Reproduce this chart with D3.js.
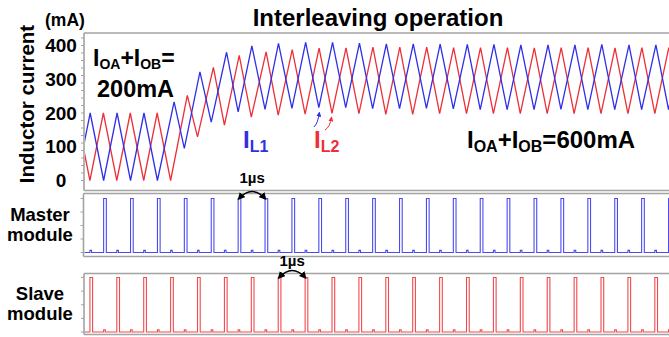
<!DOCTYPE html>
<html><head><meta charset="utf-8">
<script src="https://cdn.jsdelivr.net/npm/d3@7"></script>
<style>
body{margin:0;background:#fff}
svg{display:block}
text{font-family:"Liberation Sans",Arial,Helvetica,sans-serif;font-weight:bold;fill:#000}
</style>
</head><body>
<svg id="chart" width="669" height="337"></svg>
<script>
// ---- data ----
// inductor current vertices: time in µs, current in mA
const blueT=[-0.27,0.23,0.73,1.23,1.73,2.23,2.73,3.35,3.73,4.31,4.73,5.30,5.73,6.24,6.73,7.23,7.73,8.24,8.73,9.24,9.73,10.24,10.73,11.24,11.73,12.24,12.73,13.24,13.73,14.25,14.73,15.24,15.73,16.24,16.73,17.25,17.73,18.25,18.73,19.25,19.73,20.26,20.73,21.26,21.73,22.26];
const blueI=[0,200,0,200,0,200,0,233,95,322,173,380,203,399,211,406,214,409,216,409,216,407,213,405,213,405,214,404,212,403,210,403,210,402,210,402,211,402,210,403,210,402,210,402,210,402];
const redT=[-0.28,0.22,0.72,1.22,1.72,2.22,2.72,3.22,3.84,4.22,4.81,5.22,5.77,6.22,6.77,7.22,7.74,8.22,8.74,9.22,9.74,10.22,10.74,11.22,11.74,12.22,12.74,13.22,13.74,14.22,14.74,15.22,15.74,16.22,16.74,17.22,17.74,18.22,18.74,19.22,19.74,20.22,20.74,21.22,21.74,22.22,22.74];
const redI=[200,0,200,0,200,0,200,0,252,129,335,164,371,188,381,194,388,197,392,199,393,198,395,196,395,196,395,198,394,198,394,198,394,198,393,198,394,198,394,198,393,198,394,198,394,198,394];
// gate pulse start times (µs)
const masterPulseT=[0.73,1.73,2.73,3.73,4.73,5.73,6.73,7.73,8.73,9.73,10.73,11.73,12.73,13.73,14.73,15.73,16.73,17.73,18.73,19.73,20.73,21.73];
const slavePulseT=[0.22,1.22,2.22,3.22,4.22,5.22,6.22,7.22,8.22,9.22,10.22,11.22,12.22,13.22,14.22,15.22,16.22,17.22,18.22,19.22,20.22,21.22];
const pulseWidth=0.1;
const yTickLabels=[0,100,200,300,400];
const masterArrowIdx=[5,6];
const slaveArrowIdx=[7,8];

// ---- layout ----
const svg=d3.select("#chart");
const W=669;
const x=d3.scaleLinear().domain([0,22]).range([84,84+22*26.9]);
const y=d3.scaleLinear().domain([0,400]).range([180.5,45.5]);
const yM=d3.scaleLinear().domain([0,1]).range([252.5,198.5]);
const yS=d3.scaleLinear().domain([0,1]).range([332,277.5]);

const BLUE="#2f2fe6", RED="#ec2f38", BLUEP="#4a4af0", REDP="#ef4a4f", FRAME="#a3a3a3";

const defs=svg.append("defs");
function clip(id,x0,y0,w,h){defs.append("clipPath").attr("id",id).append("rect").attr("x",x0).attr("y",y0).attr("width",w).attr("height",h);}
clip("cTop",85,34,W-85,156);
clip("cM",84.5,194,W-84,62);
clip("cS",85,274,W-85,61);
["arrK","arrB","arrR"].forEach((id,i)=>{
  defs.append("marker").attr("id",id).attr("viewBox","0 0 10 10").attr("refX",8).attr("refY",5)
   .attr("markerWidth",5).attr("markerHeight",5).attr("orient","auto-start-reverse")
   .append("path").attr("d","M0,0 L10,5 L0,10 z").attr("fill",["#000",BLUE,RED][i]);
});

// frames
function frame(x0,y0,y1,ticks){
  svg.append("line").attr("x1",x0).attr("x2",W+5).attr("y1",y0).attr("y2",y0).attr("stroke",FRAME).attr("stroke-width",1.6);
  svg.append("line").attr("x1",x0).attr("x2",W+5).attr("y1",y1).attr("y2",y1).attr("stroke",FRAME).attr("stroke-width",1.6);
  svg.append("line").attr("x1",x0).attr("x2",x0).attr("y1",y0).attr("y2",y1).attr("stroke",FRAME).attr("stroke-width",1.6);
  ticks.forEach(t=>svg.append("line").attr("x1",x0-3).attr("x2",x0).attr("y1",t).attr("y2",t).attr("stroke",FRAME).attr("stroke-width",1));
}
const minor=d3.range(0,20).map(i=>y(i*400/18)).filter(v=>v>35);
frame(84,33,190.5,minor);
frame(83.5,193.5,256.5,[yM(0),yM(0.25),yM(0.5),yM(0.75),yM(1)]);
frame(84,273.5,334.5,[yS(0),yS(0.25),yS(0.5),yS(0.75),yS(1)]);

// y axis labels
svg.selectAll(".yl").data(yTickLabels).enter().append("text")
  .attr("x",61).attr("y",d=>y(d)+6.5).attr("text-anchor","middle").style("font-size","19px").text(d=>d);
svg.append("text").attr("x",45).attr("y",26).style("font-size","17.5px").text("(mA)");
svg.append("text").attr("transform","translate(34,104) rotate(-90)").attr("text-anchor","middle").style("font-size","20.5px").text("Inductor current");
svg.append("text").attr("x",378).attr("y",26).attr("text-anchor","middle").style("font-size","24px").text("Interleaving operation");

// inductor currents
const line=d3.line().x(d=>x(d[0])).y(d=>y(d[1]));
const gTop=svg.append("g").attr("clip-path","url(#cTop)");
gTop.append("path").attr("d",line(d3.zip(redT,redI))).attr("fill","none").attr("stroke",RED).attr("stroke-width",1.3);
gTop.append("path").attr("d",line(d3.zip(blueT,blueI))).attr("fill","none").attr("stroke",BLUE).attr("stroke-width",1.3);

// gate pulses
function pulses(starts,blips,ys,col,clipId){
  const pts=[[-0.5,0]];
  const events=[...starts.map(t=>({t,h:1,w:pulseWidth})),...blips.map(t=>({t,h:0.04,w:0.06}))].sort((a,b)=>a.t-b.t);
  events.forEach(e=>{pts.push([e.t,0],[e.t,e.h],[e.t+e.w,e.h],[e.t+e.w,0]);});
  pts.push([23,0]);
  const l=d3.line().x(d=>x(d[0])).y(d=>ys(d[1]));
  svg.append("g").attr("clip-path",`url(#${clipId})`).append("path").attr("d",l(pts))
    .attr("fill","none").attr("stroke",col).attr("stroke-width",1.1);
}
pulses(masterPulseT,slavePulseT,yM,BLUEP,"cM");
pulses(slavePulseT,masterPulseT,yS,REDP,"cS");

// 1µs arrows
function arc(i0,i1,ts,ys,labelY){
  const x1=x(ts[i0])+0.5, x2=x(ts[i1])+0.5, yb=ys(1)+0.5, xm=(x1+x2)/2;
  svg.append("path").attr("d",`M${x1},${yb} Q${xm},${yb-15} ${x2},${yb}`).attr("fill","none")
    .attr("stroke","#000").attr("stroke-width",1.5).attr("marker-start","url(#arrK)").attr("marker-end","url(#arrK)");
  svg.append("text").attr("x",xm).attr("y",labelY).attr("text-anchor","middle").style("font-size","15px").text("1µs");
}
arc(masterArrowIdx[0],masterArrowIdx[1],masterPulseT,yM,183);
arc(slaveArrowIdx[0],slaveArrowIdx[1],slavePulseT,yS,266);

// module labels
[["Master",221],["module",241],["Slave",300],["module",320]].forEach(([t,yy])=>
  svg.append("text").attr("x",40).attr("y",yy).attr("text-anchor","middle").style("font-size","18.5px").text(t));

// current annotations with subscripts
function sub(x0,y0,parts,main,subS,col,shift){
  const t=svg.append("text").attr("x",x0).attr("y",y0).style("fill",col||"#000").style("font-size",main+"px");
  let prevSub=false;
  parts.forEach(([s,isSub])=>{
    const ts=t.append("tspan").text(s).style("font-size",(isSub?subS:main)+"px");
    ts.attr("dy",isSub&&!prevSub?shift:(!isSub&&prevSub?-shift:0));
    prevSub=isSub;
  });
  return t;
}
sub(93,66,[["I",0],["OA",1],["+I",0],["OB",1],["=",0]],23,14,null,3);
svg.append("text").attr("x",97).attr("y",97).style("font-size","23.5px").text("200mA");
sub(467,148,[["I",0],["OA",1],["+I",0],["OB",1],["=600mA",0]],24,16,null,4);
sub(243,148,[["I",0],["L1",1]],24,16,BLUE,4);
sub(314,148,[["I",0],["L2",1]],24,16,RED,4);

// label pointers
const v1=x(blueT[18]), v2=x(redT[19]);
svg.append("path").attr("d",`M${v1-5},127 Q${v1-1},124 ${v1+0.5},${y(blueI[18])+5}`).attr("fill","none")
  .attr("stroke",BLUE).attr("stroke-width",1).attr("marker-end","url(#arrB)");
svg.append("path").attr("d",`M${v2-7},130 Q${v2-2},127 ${v2-0.5},${y(redI[19])+4}`).attr("fill","none")
  .attr("stroke",RED).attr("stroke-width",1).attr("marker-end","url(#arrR)");
</script>
</body></html>
